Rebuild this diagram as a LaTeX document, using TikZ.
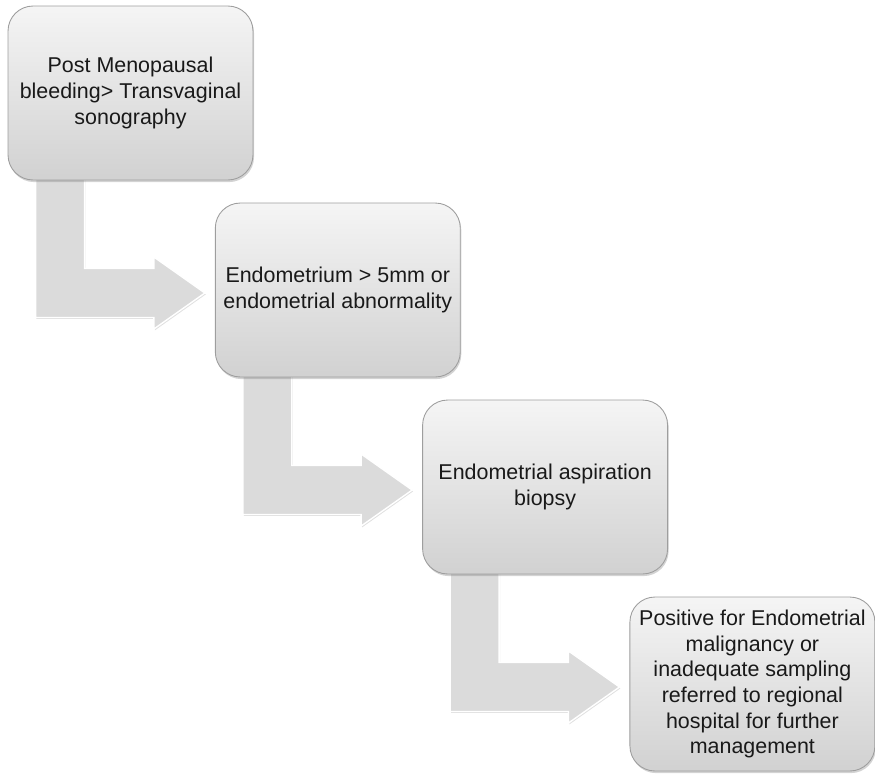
\documentclass[tikz,border=0pt]{standalone}
\usepackage{fontspec}
\setmainfont{Liberation Sans}
\usetikzlibrary{calc,shadows,backgrounds}

\begin{document}
\begin{tikzpicture}[x=0.02cm,y=-0.02cm,line join=round,
  stepbox/.style={draw=black!38,line width=0.5pt,rounded corners=0.5cm,
    top color=black!4,bottom color=black!18,
    minimum width=4.9cm,minimum height=3.48cm,align=center,
    font=\fontsize{12.2}{14.6}\selectfont,text=black!90,
    drop shadow={shadow xshift=0.6pt,shadow yshift=-1.2pt,opacity=0.35}},
  bentarrow/.style={fill=black!14,draw=white,line width=0.8pt,
    drop shadow={shadow xshift=0.5pt,shadow yshift=-0.8pt,opacity=0.25}}]

  \useasboundingbox (0,0) rectangle (875,775);

  %% ---------------------------------------------------------------
  %% the four steps, each one down and to the right
  %% ---------------------------------------------------------------
  \node[stepbox] (box1) at (130.5,93)
    {Post Menopausal\\bleeding> Transvaginal\\sonography};
  \node[stepbox] (box2) at (337.8,290)
    {Endometrium > 5mm or\\endometrial abnormality};
  \node[stepbox] (box3) at (545.1,487)
    {Endometrial aspiration\\biopsy};
  \node[stepbox] (box4) at (752.4,684)
    {Positive for Endometrial\\malignancy or\\inadequate sampling\\referred to regional\\hospital for further\\management};

  %% ---------------------------------------------------------------
  %% bent block arrows, behind the boxes
  %% ---------------------------------------------------------------
  \begin{scope}[on background layer]
    \foreach \from/\to in {box1/box2,box2/box3,box3/box4}{
      % stem start under the box, tip just short of the next box
      \coordinate (s) at ($(\from.south west)+(28,-2)$);
      \coordinate (t) at ($(\to.west)+(-10,3)$);
      \draw[bentarrow] (s) -- ($(s |- t)+(0,24.5)$) -- ($(t)+(-51,24.5)$)
        -- ($(t)+(-51,36)$) -- (t) -- ($(t)+(-51,-36)$)
        -- ($(t)+(-51,-24.5)$) -- ($(s |- t)+(49,-24.5)$)
        -- ($(s)+(49,0)$) -- cycle;
    }
  \end{scope}

\end{tikzpicture}
\end{document}
